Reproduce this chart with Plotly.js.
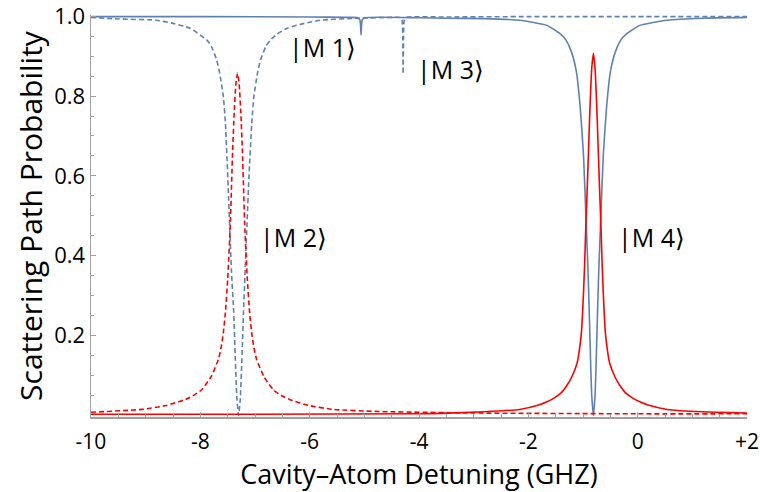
<!DOCTYPE html>
<html>
<head>
<meta charset="utf-8">
<script src="https://cdn.plot.ly/plotly-3.0.1.min.js"></script>
<style>html,body{margin:0;padding:0;background:#fff;}#chart{width:760px;height:492px;}</style>
</head>
<body>
<div id="chart"></div>
<script>
// Blue solid: |M 4> transmission with tiny |M 1> dip
const blueSolidX = [-10, -8, -6, -5.3, -5.12, -5.08, -5.068, -5.06, -5.052, -5.04, -5.0, -4, -3.5, -2.81, -2.16, -1.66, -1.41, -1.31, -1.21, -1.12, -1.05, -0.99, -0.947, -0.91, -0.88, -0.86, -0.84, -0.81, -0.78, -0.76, -0.74, -0.71, -0.673, -0.63, -0.57, -0.50, -0.41, -0.31, -0.21, 0.04, 0.54, 1.19, 2];
const blueSolidY = [0.999, 0.999, 0.998, 0.997, 0.996, 0.99, 0.975, 0.953, 0.975, 0.99, 0.996, 0.996, 0.995, 0.994, 0.99, 0.977, 0.955, 0.94, 0.91, 0.86, 0.77, 0.65, 0.50, 0.37, 0.23, 0.13, 0.05, 0.0, 0.05, 0.13, 0.23, 0.37, 0.50, 0.65, 0.77, 0.86, 0.91, 0.94, 0.955, 0.977, 0.99, 0.995, 0.997];

// Blue dashed: |M 2> transmission with tiny |M 3> dip
const blueDashX = [-10, -9.5, -8.8, -8.5, -8.19, -7.88, -7.80, -7.70, -7.65, -7.58, -7.54, -7.49, -7.43, -7.39, -7.36, -7.33, -7.30, -7.27, -7.24, -7.21, -7.17, -7.11, -7.06, -7.02, -6.95, -6.90, -6.80, -6.72, -6.60, -6.41, -6.10, -5.80, -5.10, -4.5, -4.35, -4.31, -4.297, -4.29, -4.283, -4.27, -4.23, -3.5, -2, 0, 2];
const blueDashY = [0.997, 0.993, 0.99, 0.982, 0.97, 0.94, 0.925, 0.89, 0.86, 0.80, 0.73, 0.57, 0.36, 0.26, 0.14, 0.04, 0.0, 0.04, 0.14, 0.26, 0.40, 0.60, 0.73, 0.80, 0.86, 0.89, 0.925, 0.94, 0.955, 0.97, 0.982, 0.99, 0.995, 0.997, 0.997, 0.99, 0.95, 0.855, 0.95, 0.99, 0.997, 0.998, 0.999, 0.999, 0.999];

// Red dashed: |M 2> scattering peak
const redDashX = [-10, -9.07, -8.62, -8.27, -8.1, -7.97, -7.80, -7.67, -7.62, -7.58, -7.54, -7.50, -7.454, -7.41, -7.38, -7.35, -7.32, -7.29, -7.26, -7.23, -7.186, -7.14, -7.10, -7.06, -7.02, -6.97, -6.84, -6.67, -6.52, -6.37, -6.02, -5.57, -4.8, -3, 0, 2];
const redDashY = [0.008, 0.015, 0.025, 0.04, 0.052, 0.065, 0.098, 0.14, 0.17, 0.206, 0.26, 0.34, 0.47, 0.66, 0.76, 0.83, 0.857, 0.83, 0.76, 0.66, 0.47, 0.34, 0.26, 0.206, 0.17, 0.14, 0.098, 0.065, 0.05, 0.04, 0.025, 0.015, 0.01, 0.006, 0.004, 0.004];

// Red solid: |M 4> scattering peak
const redSolidX = [-10, -7, -4, -3.61, -2.81, -2.16, -1.81, -1.66, -1.545, -1.41, -1.295, -1.21, -1.11, -1.07, -1.03, -1.01, -0.99, -0.97, -0.947, -0.92, -0.90, -0.87, -0.84, -0.81, -0.78, -0.75, -0.72, -0.70, -0.673, -0.65, -0.63, -0.61, -0.59, -0.55, -0.51, -0.41, -0.325, -0.21, -0.075, 0.04, 0.19, 0.54, 1.19, 2];
const redSolidY = [0.003, 0.003, 0.004, 0.005, 0.009, 0.015, 0.026, 0.034, 0.042, 0.055, 0.075, 0.095, 0.13, 0.16, 0.206, 0.25, 0.31, 0.38, 0.48, 0.58, 0.66, 0.78, 0.87, 0.907, 0.87, 0.78, 0.66, 0.58, 0.48, 0.38, 0.31, 0.25, 0.206, 0.16, 0.13, 0.095, 0.075, 0.055, 0.042, 0.034, 0.026, 0.015, 0.009, 0.006];

const xTickVals = [-10, -8, -6, -4, -2, 0, 2];
const xTickText = ['-10', '-8', '-6', '-4', '-2', '0', '+2'];
const yTickVals = [0.2, 0.4, 0.6, 0.8, 1.0];
const yTickText = ['0.2', '0.4', '0.6', '0.8', '1.0'];

const stateLabels = ['|M 1⟩', '|M 2⟩', '|M 3⟩', '|M 4⟩'];
const stateLabelX = [-5.76, -6.29, -3.43, 0.26];
const stateLabelY = [0.924, 0.446, 0.867, 0.446];

const blue = 'rgb(94,129,181)';
const red = 'rgb(255,0,0)';
const FONT = 'Open Sans, sans-serif';

const traces = [
  {x: blueDashX, y: blueDashY, mode: 'lines', line: {color: blue, width: 1.6, dash: '5px,3px', shape: 'spline', smoothing: 0.5}},
  {x: blueSolidX, y: blueSolidY, mode: 'lines', line: {color: blue, width: 1.6, shape: 'spline', smoothing: 0.5}},
  {x: redDashX, y: redDashY, mode: 'lines', line: {color: red, width: 1.6, dash: '5px,3px', shape: 'spline', smoothing: 0.5}},
  {x: redSolidX, y: redSolidY, mode: 'lines', line: {color: red, width: 1.6, shape: 'spline', smoothing: 0.5}}
];

const annotations = stateLabels.map((t, i) => ({
  x: stateLabelX[i], y: stateLabelY[i], xref: 'x', yref: 'y',
  text: t, showarrow: false, font: {family: FONT, size: 25, color: '#000'}
}));

const layout = {
  width: 760, height: 492,
  margin: {l: 91, r: 13, t: 15, b: 75},
  paper_bgcolor: '#fff', plot_bgcolor: '#fff',
  showlegend: false,
  font: {family: FONT, color: '#000'},
  xaxis: {
    range: [-10, 2], tickvals: xTickVals, ticktext: xTickText,
    showgrid: false, zeroline: false, showline: true, linecolor: '#a0a0a0', linewidth: 1.5,
    ticks: 'inside', ticklen: 5, tickcolor: '#a0a0a0', tickwidth: 1,
    minor: {dtick: 0.5, ticks: 'inside', ticklen: 3, tickcolor: '#a0a0a0', showgrid: false},
    tickfont: {family: FONT, size: 21, color: '#000'},
    ticklabelstandoff: 5,
    ticklabeloverflow: 'allow',
    title: {text: 'Cavity–Atom Detuning (GHZ)', font: {family: FONT, size: 27, color: '#000'}, standoff: 12}
  },
  yaxis: {
    range: [-0.004, 1.003], tickvals: yTickVals, ticktext: yTickText,
    showgrid: false, zeroline: false, showline: true, linecolor: '#a0a0a0', linewidth: 1.5,
    ticks: 'inside', ticklen: 5, tickcolor: '#a0a0a0', tickwidth: 1,
    minor: {tickvals: [0.05,0.1,0.15,0.25,0.3,0.35,0.45,0.5,0.55,0.65,0.7,0.75,0.85,0.9,0.95], ticks: 'inside', ticklen: 3, tickcolor: '#a0a0a0', showgrid: false},
    tickfont: {family: FONT, size: 22, color: '#000'},
    ticklabeloverflow: 'allow',
    title: {text: 'Scattering Path Probability', font: {family: FONT, size: 30, color: '#000'}, standoff: 2}
  },
  annotations: annotations
};

Plotly.newPlot('chart', traces, layout, {displayModeBar: false, staticPlot: true});
</script>
</body>
</html>
